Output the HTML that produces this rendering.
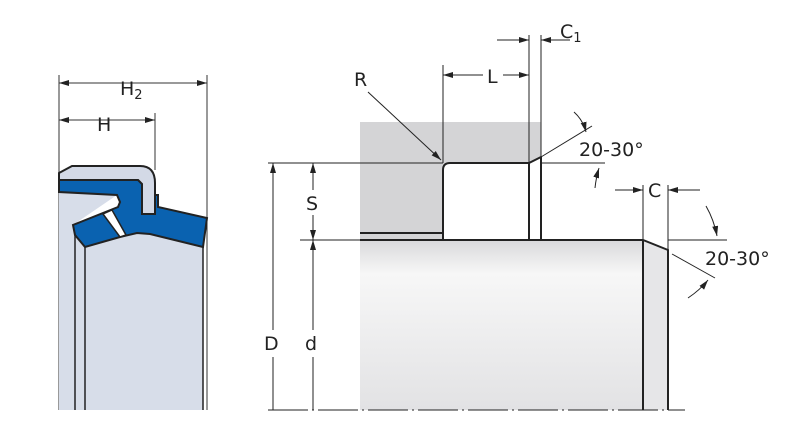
<!DOCTYPE html>
<html><head><style>body{margin:0;background:#fff}svg{display:block}text{font-family:"DejaVu Sans","Liberation Sans",sans-serif;fill:#222}</style></head>
<body>
<svg width="800" height="431" viewBox="0 0 800 431" xmlns="http://www.w3.org/2000/svg">
<defs>
<marker id="a" viewBox="0 0 10 6" refX="10" refY="3" markerWidth="10" markerHeight="6" orient="auto-start-reverse" markerUnits="userSpaceOnUse"><path d="M0,0 L10,3 L0,6z" fill="#222"/></marker>
<linearGradient id="g" x1="0" y1="0" x2="0" y2="1"><stop offset="0" stop-color="#d9d9db"/><stop offset="0.2" stop-color="#f7f7f7"/><stop offset="1" stop-color="#e2e2e4"/></linearGradient>
</defs>
<g stroke="#333" fill="none" stroke-width="1">
<line x1="59" y1="75" x2="59" y2="410"/><line x1="207" y1="75" x2="207" y2="410"/>
<line x1="155" y1="113" x2="155" y2="170"/>
<line x1="59" y1="83" x2="207" y2="83" marker-start="url(#a)" marker-end="url(#a)"/>
<line x1="59" y1="120" x2="155" y2="120" marker-start="url(#a)" marker-end="url(#a)"/>
</g>
<text x="120" y="95" font-size="19">H<tspan font-size="13" dy="4">2</tspan></text>
<text x="97" y="131" font-size="19">H</text>
<polygon points="59,190 117,195 73,225 75,235 85,247 120,237 137,233 150,234 203,247 203,410 59,410" fill="#d7dde9"/>
<g stroke="#222" stroke-width="2">
<path d="M59,173 L72,166 L140,166 Q155,166 155,183 L155,214 L142,214 L142,184 L138,180 L59,180 Z" fill="#d3d9e6"/>
<polygon points="59,180 138,180 142,184 142,214 155,214 155,195 158,195 158,207 207,218 203,247 150,234 137,233 120,237 85,247 75,235 73,225 118,207 120,202 117,195 59,192" fill="#0a62b0"/>
<polygon points="103,214 112,210 126,235 120,237" fill="#fff" stroke-width="1.5"/>
<line x1="75" y1="235" x2="75" y2="410" stroke-width="1.5"/>
<line x1="85" y1="247" x2="85" y2="410" stroke-width="1.5"/>
<line x1="203" y1="247" x2="203" y2="410" stroke-width="1.5"/>
</g>
<rect x="360" y="122" width="181" height="118" fill="#d4d4d6"/>
<path d="M443,240 L443,170 Q443,163 450,163 L529,163 L541,157 L541,240 Z" fill="#fff"/>
<rect x="360" y="240" width="283" height="170" fill="url(#g)"/>
<polygon points="643,240 668,250 668,410 643,410" fill="#e6e6e8"/>
<g stroke="#222" stroke-width="2" fill="none">
<path d="M443,240 L443,170 Q443,163 450,163 L529,163 L541,157"/>
<line x1="529" y1="163" x2="529" y2="240"/><line x1="541" y1="157" x2="541" y2="240"/>
<line x1="360" y1="233" x2="443" y2="233"/>
<path d="M360,240 L643,240 L668,250 L668,410"/>
<line x1="643" y1="240" x2="643" y2="410"/>
</g>
<g stroke="#222" stroke-width="1" fill="none">
<line x1="268" y1="163" x2="443" y2="163"/>
<line x1="300" y1="240" x2="360" y2="240"/>
<line x1="273" y1="163" x2="273" y2="330" marker-start="url(#a)"/>
<line x1="273" y1="357" x2="273" y2="410"/>
<line x1="313" y1="240" x2="313" y2="330" marker-start="url(#a)"/>
<line x1="313" y1="357" x2="313" y2="410"/>
<line x1="313" y1="163" x2="313" y2="190" marker-start="url(#a)"/>
<line x1="313" y1="215" x2="313" y2="240" marker-end="url(#a)"/>
<line x1="443" y1="65" x2="443" y2="163"/>
<line x1="529" y1="35" x2="529" y2="163"/>
<line x1="541" y1="35" x2="541" y2="157"/>
<line x1="443" y1="75" x2="483" y2="75" marker-start="url(#a)"/>
<line x1="503" y1="75" x2="529" y2="75" marker-end="url(#a)"/>
<line x1="497" y1="40" x2="529" y2="40" marker-end="url(#a)"/>
<line x1="570" y1="40" x2="541" y2="40" marker-end="url(#a)"/>
<line x1="368" y1="92" x2="441" y2="160" marker-end="url(#a)"/>
<line x1="541" y1="157" x2="592" y2="126"/>
<line x1="541" y1="163" x2="605" y2="163"/>
<path d="M574,112 Q583,120 586,132" marker-end="url(#a)"/>
<path d="M595,188 Q596,178 599,168" marker-end="url(#a)"/>
<line x1="643" y1="185" x2="643" y2="240"/>
<line x1="668" y1="185" x2="668" y2="250"/>
<line x1="615" y1="190" x2="643" y2="190" marker-end="url(#a)"/>
<line x1="700" y1="190" x2="668" y2="190" marker-end="url(#a)"/>
<line x1="668" y1="240" x2="727" y2="240"/>
<line x1="672" y1="254" x2="715" y2="278"/>
<path d="M706,206 Q714,220 717,236" marker-end="url(#a)"/>
<path d="M688,298 Q700,290 708,280" marker-end="url(#a)"/>
<line x1="268" y1="410" x2="685" y2="410" stroke-dasharray="40,4,2,4"/>
</g>
<text x="264" y="350" font-size="19">D</text>
<text x="305" y="350" font-size="19">d</text>
<text x="306" y="210" font-size="19">S</text>
<text x="487" y="83" font-size="19">L</text>
<text x="354" y="86" font-size="19">R</text>
<text x="560" y="38" font-size="19">C<tspan font-size="13" dy="4">1</tspan></text>
<text x="579" y="156" font-size="19">20-30°</text>
<text x="648" y="197" font-size="19">C</text>
<text x="705" y="265" font-size="19">20-30°</text>
</svg>
</body></html>
